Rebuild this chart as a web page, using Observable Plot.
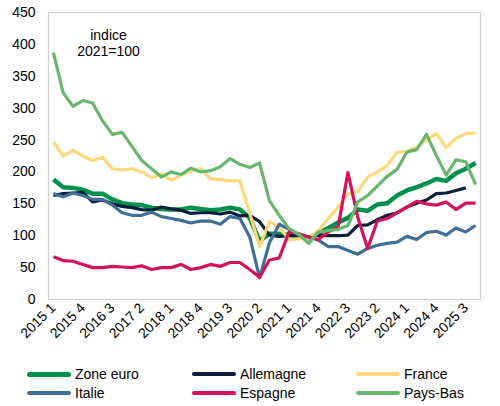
<!DOCTYPE html>
<html><head><meta charset="utf-8">
<script src="https://cdn.jsdelivr.net/npm/d3@7"></script>
<script src="https://cdn.jsdelivr.net/npm/@observablehq/plot@0.6"></script>
<style>
body{margin:0;background:#fff;font-family:"Liberation Sans",Arial,sans-serif;}
#wrap{position:relative;width:500px;height:406px;overflow:hidden;}
.item{position:absolute;display:flex;align-items:center;height:18px;font-size:14px;color:#000;white-space:nowrap;}
.sw{display:inline-block;width:44px;margin-right:4px;border-radius:3px;}
</style></head><body><div id="wrap"></div>
<script>
// categories: quarters 2015 1 ... 2025 4
const years = [2015,2016,2017,2018,2019,2020,2021,2022,2023,2024,2025];
const quarterNums = [1,2,3,4];
const quarters = [];
for (const y of years) for (const q of quarterNums) quarters.push(y + " " + q);
const xTickLabels = quarters.filter((d, i) => i % 3 === 0);
const yTicks = [0,50,100,150,200,250,300,350,400,450];

const seriesNames = ["Zone euro","Allemagne","France","Italie","Espagne","Pays-Bas"];
const seriesColors = ["#00914c","#0b1f3d","#ffd87c","#3f6f96","#d6115c","#6ab66f"];

const zoneEuro = [188,176,175,172,166,166,157,151,149,148,144,142,141,141,144,142,140,141,144,141,128,92,103,103,101,99,96,104,112,121,128,141,139,149,151,163,171,176,182,189,186,198,205,214];
const allemagne = [163,166,167,168,153,156,150,146,144,141,140,145,142,140,135,136,136,134,137,131,132,122,101,99,100,100,98,101,100,100,101,116,117,125,132,136,145,151,156,166,167,171,175,null];
const france = [247,225,234,225,218,223,205,203,205,200,191,197,187,195,201,205,189,188,186,186,135,83,122,113,94,95,96,108,127,145,166,169,192,200,210,231,232,239,250,260,238,253,260,261];
const italie = [166,161,167,163,157,157,148,136,132,132,137,130,127,124,120,123,123,118,130,127,98,34,89,118,110,101,98,93,83,83,77,71,80,85,88,90,99,94,105,107,101,112,106,116];
const espagne = [67,61,60,55,50,50,52,51,50,53,47,50,50,55,47,50,55,52,58,58,47,35,62,65,106,103,98,94,106,114,199,129,80,123,127,136,145,154,150,148,153,141,151,151];
const paysBas = [387,324,303,312,308,280,259,262,240,218,205,192,200,196,206,200,202,208,221,212,207,214,155,132,111,102,88,106,108,110,116,153,163,178,193,204,231,235,259,226,195,219,216,180];

const seriesValues = [zoneEuro, allemagne, france, italie, espagne, paysBas];
const seriesWidths = [4.5, 3.2, 3.2, 3.2, 3.2, 3.2];
const annotation = ["indice\n2021=100"];

const lineMarks = seriesValues.map((vals, k) =>
  Plot.line(vals, {
    x: (d, i) => quarters[i],
    y: d => d,
    stroke: seriesColors[k],
    strokeWidth: seriesWidths[k],
    strokeLinejoin: "round",
    strokeLinecap: "butt"
  })
);

const chart = Plot.plot({
  width: 500,
  height: 362,
  marginLeft: 48,
  marginRight: 20,
  marginTop: 12,
  marginBottom: 63,
  style: {fontFamily: "Liberation Sans, Arial, sans-serif", fontSize: "14px", color: "#000", background: "#fff"},
  x: {type: "point", domain: quarters, padding: 0.5},
  y: {domain: [0, 450]},
  marks: [
    Plot.frame({stroke: "#d0d0d0", strokeWidth: 1.2}),
    Plot.axisY({ticks: yTicks, tickSize: 0, tickPadding: 13, label: null, fontSize: 14}),
    Plot.axisX({ticks: xTickLabels, tickSize: 0, tickRotate: -45, tickPadding: 6, label: null, fontSize: 14}),
    ...lineMarks,
    Plot.text(annotation, {x: () => "2016 2", y: () => 403, text: d => d, dx: 6, fontSize: 14, lineHeight: 1.15, textAnchor: "middle", lineAnchor: "middle", fill: "#000"})
  ]
});

const wrap = document.getElementById("wrap");
wrap.appendChild(chart);

// legend (HTML, below the svg)
const legendCols = [27, 192, 356];
const legendRows = [374, 393];
seriesNames.forEach((name, k) => {
  const item = document.createElement("div");
  item.className = "item";
  item.style.left = legendCols[k % 3] + "px";
  item.style.top = (legendRows[Math.floor(k / 3)] - 9) + "px";
  const sw = document.createElement("span");
  sw.className = "sw";
  sw.style.height = (k === 0 ? 5 : 4) + "px";
  sw.style.background = seriesColors[k];
  item.appendChild(sw);
  item.appendChild(document.createTextNode(name));
  wrap.appendChild(item);
});
</script>
</body></html>
